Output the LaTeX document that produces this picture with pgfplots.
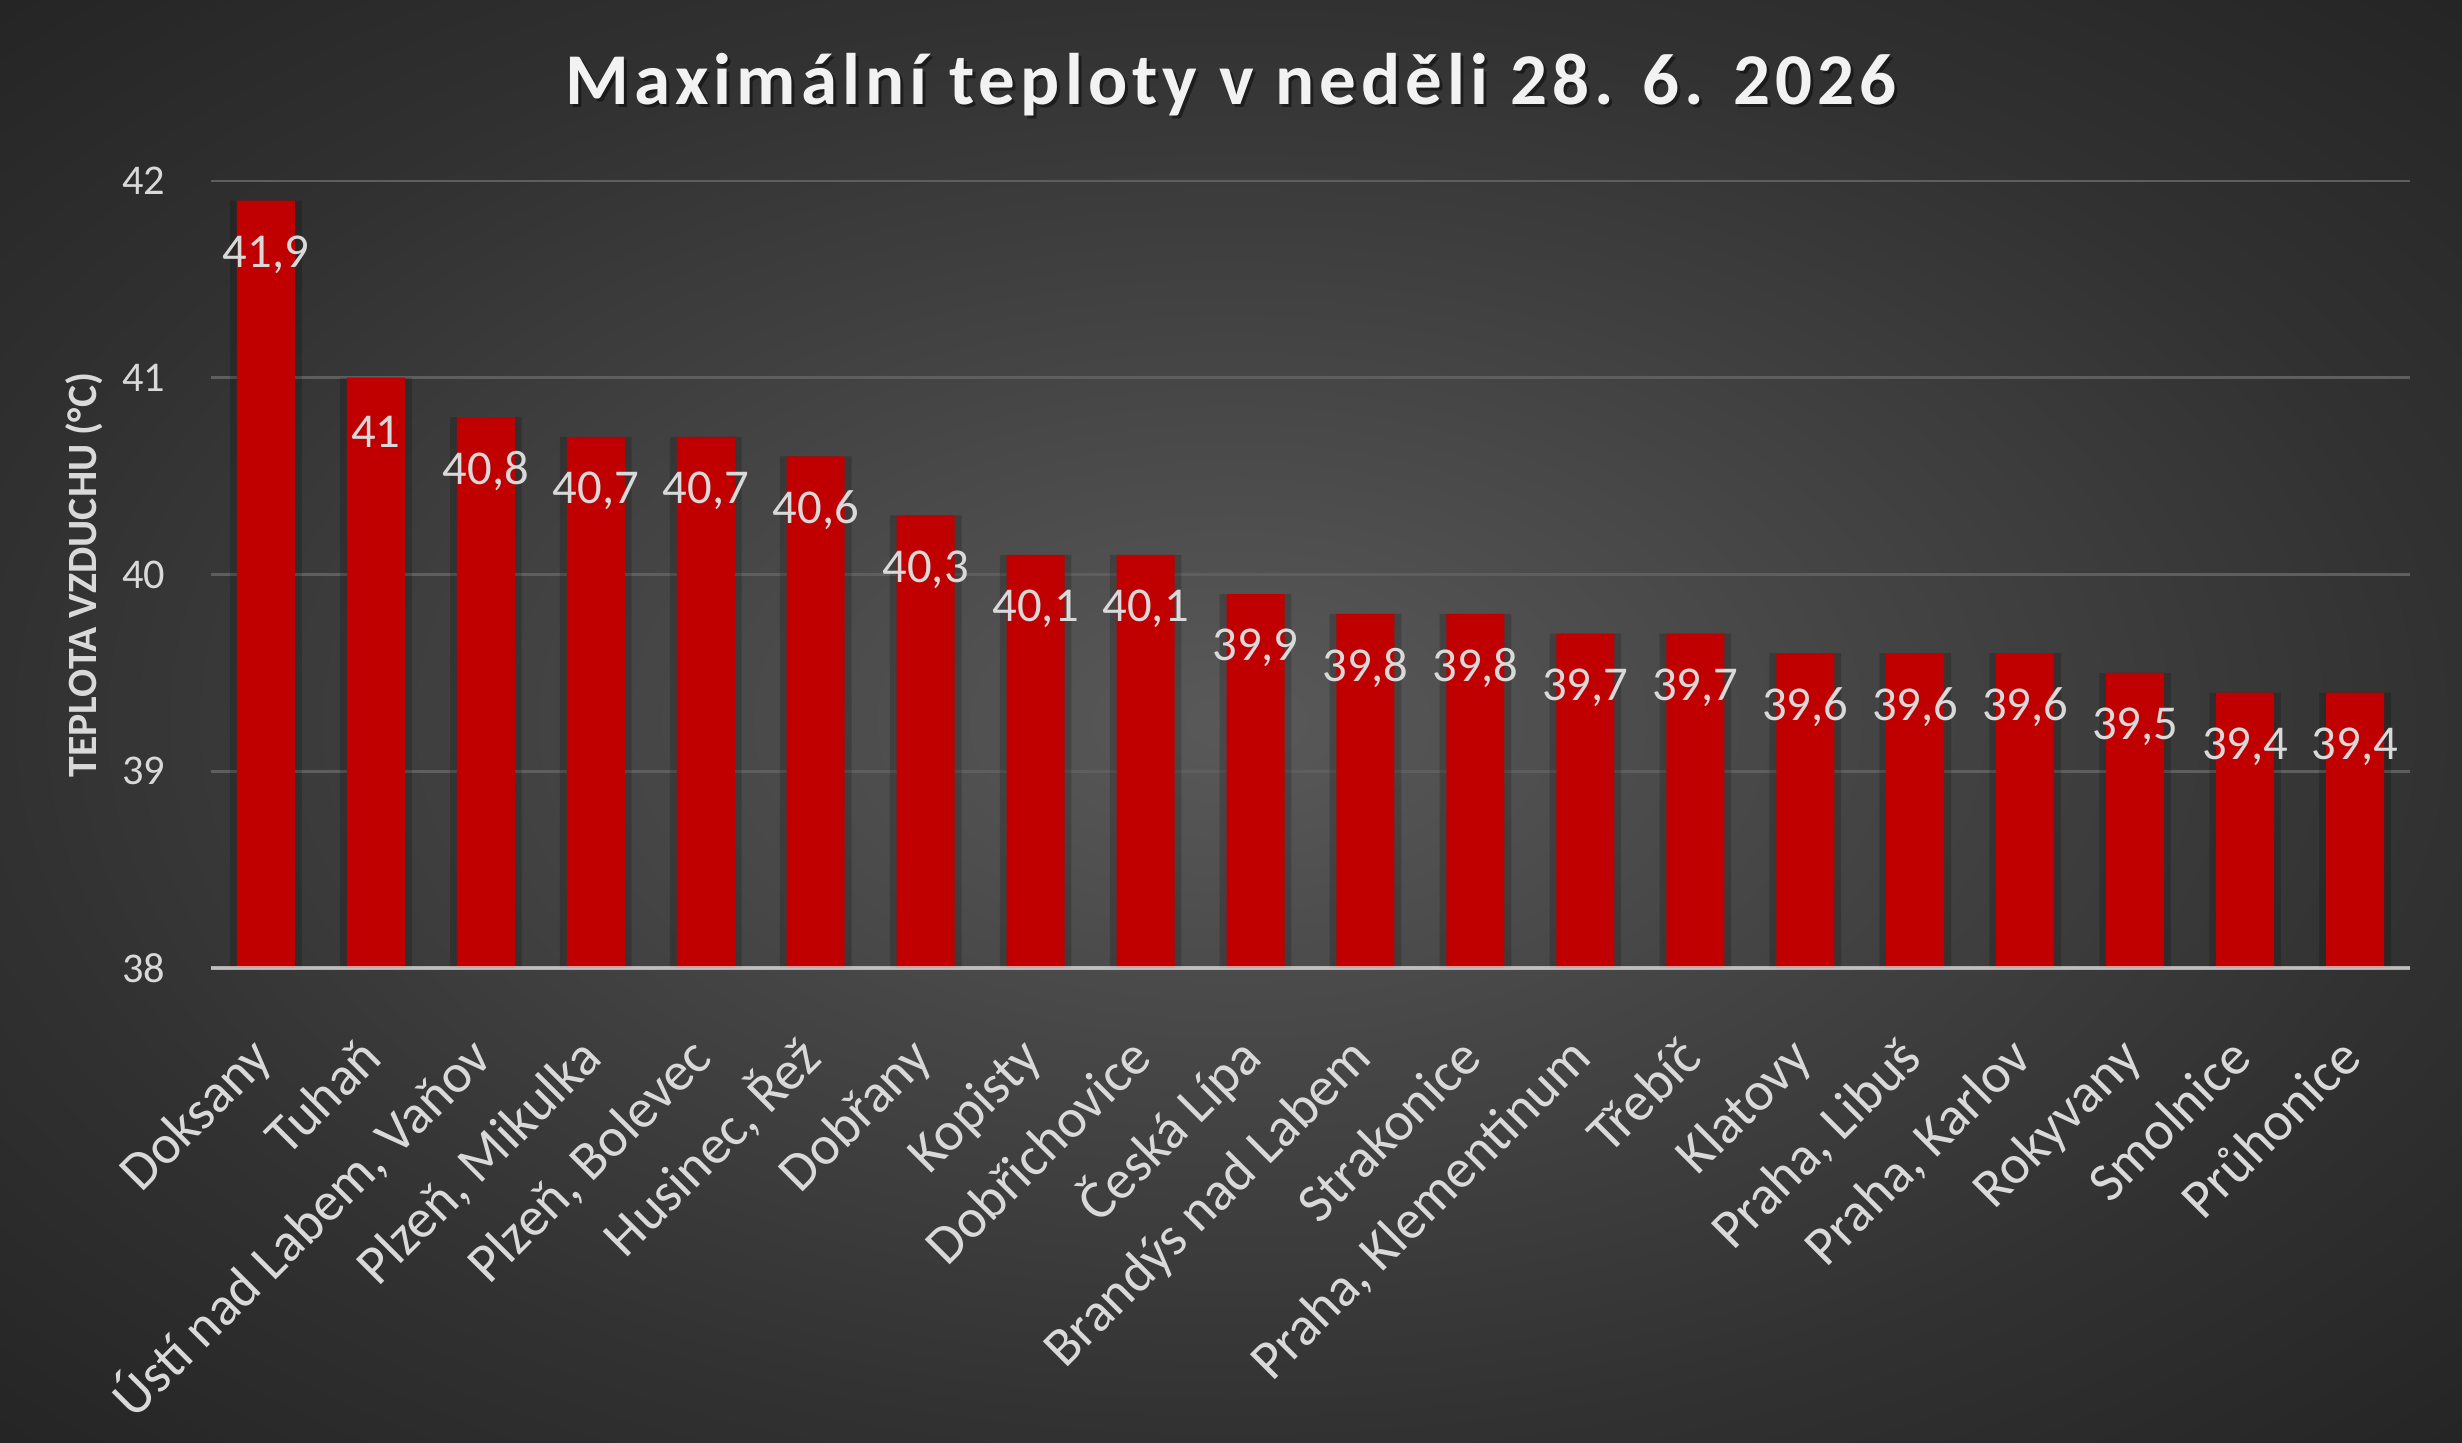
\documentclass[border=0pt]{standalone}
\usepackage{fontspec}
\setmainfont{Carlito}
\newfontfamily\titlefont[LetterSpace=7]{Carlito}
\usepackage{pgfplots}
\pgfplotsset{compat=1.18}

\definecolor{bgin}{HTML}{595959}
\definecolor{bgedge}{HTML}{313131}
\definecolor{bgcorner}{HTML}{242424}
\definecolor{barred}{HTML}{C00000}
\definecolor{lbl}{HTML}{D9D9D9}
\definecolor{gridc}{HTML}{5E5E5E}
\pgfdeclareradialshading{bgshade}{\pgfpoint{0bp}{0bp}}{color(0bp)=(bgin); color(25bp)=(bgedge); color(36bp)=(bgcorner); color(50bp)=(bgcorner)}

\begin{document}
\begin{tikzpicture}
  \shade[shading=bgshade] (0,0) rectangle (738.6pt,432.9pt);

  % title with a soft shadow
  \node[anchor=base, text=black, opacity=0.45, font=\titlefont\fontsize{21.9}{24}\selectfont\bfseries]
    at (370.2pt,400.5pt) {Maximální teploty v neděli 28. 6. 2026};
  \node[anchor=base, text=white!95!black, font=\titlefont\fontsize{21.9}{24}\selectfont\bfseries]
    at (369.3pt,401.4pt) {Maximální teploty v neděli 28. 6. 2026};

  % y label
  \node[rotate=90, anchor=center, text=lbl, font=\fontsize{12.5}{15}\selectfont\bfseries]
    at (25.2pt,260.4pt) {TEPLOTA VZDUCHU (°C)};

  \begin{axis}[
    at={(63.3pt,142.5pt)}, anchor=south west,
    scale only axis,
    width=659.7pt, height=236.1pt,
    xmin=-0.5, xmax=19.5,
    ymin=38, ymax=42,
    ytick={38,39,40,41,42},
    xtick=data,
    xticklabels={Doksany,Tuhaň,{Ústí nad Labem, Vaňov},{Plzeň, Mikulka},{Plzeň, Bolevec},{Husinec, Řež},Dobřany,Kopisty,Dobřichovice,Česká Lípa,Brandýs nad Labem,Strakonice,{Praha, Klementinum},Třebíč,Klatovy,{Praha, Libuš},{Praha, Karlov},Rokyvany,Smolnice,Průhonice},
    major tick length=0pt,
    axis line style={draw=none},
    ymajorgrids,
    grid style={gridc, line width=0.8pt},
    /pgf/number format/assume math mode=true,
    /pgf/number format/use comma,
    yticklabel style={text=lbl, font=\fontsize{12.7}{15}\selectfont, inner sep=0pt, anchor=east, xshift=-13.5pt},
    xticklabel style={text=lbl, font=\fontsize{16.5}{19}\selectfont, rotate=45, anchor=north east,
      inner sep=0pt, text height=0.7em, text depth=0.2em, xshift=-17.7pt, yshift=-14.3pt},
    ybar, bar width=17.4pt,
    clip=false,
  ]
    % shadow behind the bars
    \addplot[bar shift=0pt, bar width=21.5pt, fill=black, opacity=0.18, draw=none, forget plot]
      coordinates {(0,41.9) (1,41) (2,40.8) (3,40.7) (4,40.7) (5,40.6) (6,40.3) (7,40.1) (8,40.1) (9,39.9)
                   (10,39.8) (11,39.8) (12,39.7) (13,39.7) (14,39.6) (15,39.6) (16,39.6) (17,39.5) (18,39.4) (19,39.4)};
    \addplot[bar shift=0pt, fill=barred, draw=none,
      nodes near coords,
      every node near coord/.append style={anchor=center, yshift=-16.2pt, text=lbl, font=\fontsize{14.6}{17}\selectfont}]
      coordinates {(0,41.9) (1,41) (2,40.8) (3,40.7) (4,40.7) (5,40.6) (6,40.3) (7,40.1) (8,40.1) (9,39.9)
                   (10,39.8) (11,39.8) (12,39.7) (13,39.7) (14,39.6) (15,39.6) (16,39.6) (17,39.5) (18,39.4) (19,39.4)};
    \draw[white, opacity=0.6, line width=1.2pt] (rel axis cs:0,0) -- (rel axis cs:1,0);
  \end{axis}
\end{tikzpicture}
\end{document}
